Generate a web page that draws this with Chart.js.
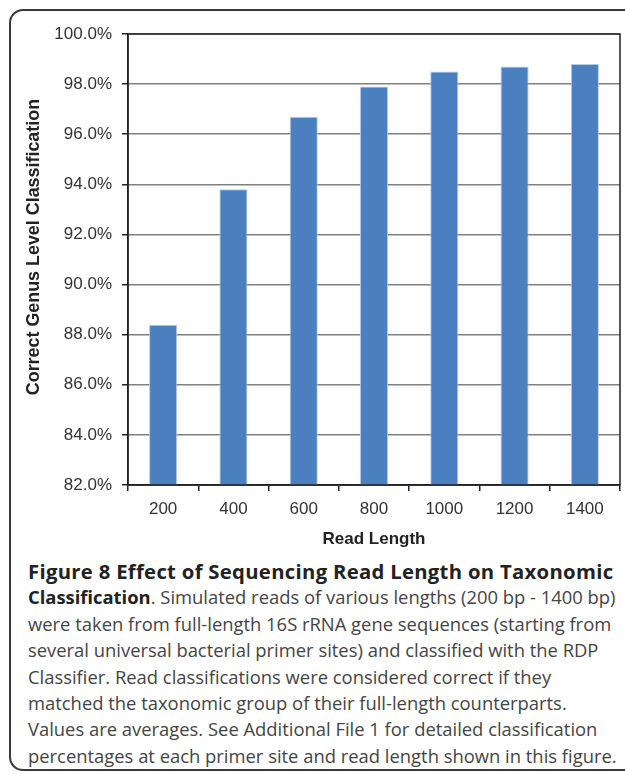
<!DOCTYPE html>
<html>
<head>
<meta charset="utf-8">
<script src="https://cdn.jsdelivr.net/npm/chart.js@4.4.1/dist/chart.umd.min.js"></script>
<style>
  html, body { margin: 0; padding: 0; background: #fff; }
  body { width: 625px; height: 774px; position: relative; overflow: hidden; }
  .frame {
    position: absolute; left: 9px; top: 9px; width: 640px; height: 762px;
    border: 2px solid #3a3a3a; border-radius: 14px; box-sizing: border-box;
  }
  .chart-box { position: absolute; left: 0; top: 0; width: 625px; height: 550px; }
  .caption {
    position: absolute; left: 28px; top: 558px; width: 600px;
    font-family: "Open Sans", sans-serif; font-size: 18.4px; line-height: 26.4px;
    color: #444; white-space: nowrap;
  }
  .caption b { font-weight: 700; color: #222; }
  .caption .head { font-size: 20.3px; letter-spacing: 0.3px; }
</style>
</head>
<body>
<div class="frame"></div>
<div class="chart-box"><canvas id="chart" width="625" height="550"></canvas></div>
<div class="caption">
  <div class="head"><b>Figure 8 Effect of Sequencing Read Length on Taxonomic</b></div>
  <div><b>Classification</b>. Simulated reads of various lengths (200 bp - 1400 bp)</div>
  <div>were taken from full-length 16S rRNA gene sequences (starting from</div>
  <div>several universal bacterial primer sites) and classified with the RDP</div>
  <div>Classifier. Read classifications were considered correct if they</div>
  <div>matched the taxonomic group of their full-length counterparts.</div>
  <div>Values are averages. See Additional File 1 for detailed classification</div>
  <div>percentages at each primer site and read length shown in this figure.</div>
</div>
<script>
// data
const readLengths = ["200", "400", "600", "800", "1000", "1200", "1400"];
const correctGenus = [88.4, 93.8, 96.7, 97.9, 98.5, 98.7, 98.8];
const yMin = 82;
const yMax = 100;
const yStep = 2;

// box around the plot area (top + right edges too)
const plotBorder = {
  id: "plotBorder",
  afterDraw(chart) {
    const { ctx, chartArea } = chart;
    ctx.save();
    ctx.strokeStyle = "#222";
    ctx.lineWidth = 1.5;
    ctx.strokeRect(chartArea.left, chartArea.top, chartArea.right - chartArea.left, chartArea.bottom - chartArea.top);
    ctx.restore();
  }
};

new Chart(document.getElementById("chart").getContext("2d"), {
  type: "bar",
  data: {
    labels: readLengths,
    datasets: [
      {
        label: "Correct Genus Level Classification",
        data: correctGenus,
        backgroundColor: "#4a80bf",
        borderColor: "#b4c9e4",
        borderWidth: 1,
        barPercentage: 0.4,
        categoryPercentage: 1.0,
      },
    ],
  },
  options: {
    responsive: false,
    animation: false,
    layout: { padding: { top: 34, right: 5, left: 0, bottom: 0 } },
    plugins: {
      legend: { display: false },
      tooltip: { enabled: false },
    },
    scales: {
      x: {
        afterFit: (scale) => { scale.height = 65; },
        grid: { drawOnChartArea: false, drawTicks: true, tickLength: 6, color: "#222", lineWidth: 1.5 },
        border: { color: "#222", width: 1.5 },
        ticks: { color: "#333", font: { family: "Liberation Sans", size: 17 }, padding: 8 },
        title: {
          display: true,
          text: "Read Length",
          color: "#222",
          font: { family: "Liberation Sans", size: 17, weight: "bold" },
          padding: { top: 0, bottom: 0 },
        },
      },
      y: {
        min: yMin,
        max: yMax,
        afterFit: (scale) => { scale.width = 128; },
        grid: { color: "#808080", lineWidth: 1.5, tickLength: 6, tickColor: "#222" },
        border: { color: "#222", width: 1.5 },
        ticks: {
          stepSize: yStep,
          color: "#333",
          font: { family: "Liberation Sans", size: 17 },
          padding: 10,
          callback: (v) => v.toFixed(1) + "%",
        },
        title: {
          display: true,
          // leading spaces nudge the rotated title upward like the original
          text: "     Correct Genus Level Classification",
          color: "#222",
          font: { family: "Liberation Sans", size: 17.9, weight: "bold" },
          padding: { top: 23, bottom: 0 },
        },
      },
    },
  },
  plugins: [plotBorder],
});
</script>
</body>
</html>
